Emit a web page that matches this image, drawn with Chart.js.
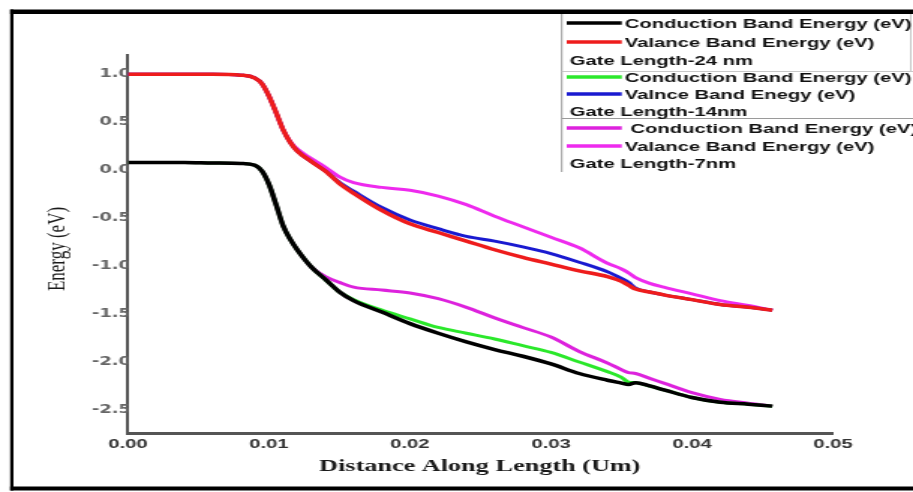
<!DOCTYPE html>
<html>
<head>
<meta charset="utf-8">
<script src="https://cdn.jsdelivr.net/npm/chart.js@4.4.1/dist/chart.umd.min.js"></script>
<style>
  html, body { margin: 0; padding: 0; background: #fff; }
</style>
</head>
<body>
<!-- the original figure is a horizontally stretched image, so the canvas is drawn narrow and stretched by CSS -->
<canvas id="bandChart" width="609" height="492" style="width:913px;height:492px;display:block"></canvas>
<script>
// distance along the channel (um)
const distance = [0, 0.002, 0.004, 0.006, 0.008, 0.009, 0.0095, 0.010, 0.0105, 0.011, 0.0115, 0.012,
  0.013, 0.014, 0.015, 0.016, 0.018, 0.020, 0.022, 0.024, 0.026, 0.028, 0.030, 0.032, 0.034,
  0.035, 0.0355, 0.036, 0.037, 0.038, 0.040, 0.042, 0.044, 0.0457];

// gate length 24 nm
const cb24 = [0.08, 0.08, 0.08, 0.075, 0.07, 0.05, -0.01, -0.15, -0.36, -0.58, -0.72, -0.83,
  -1.01, -1.14, -1.27, -1.36, -1.48, -1.60, -1.70, -1.79, -1.87, -1.94, -2.02, -2.12, -2.19,
  -2.22, -2.235, -2.215, -2.25, -2.29, -2.37, -2.42, -2.44, -2.46];
const vb24 = [1.0, 1.0, 1.0, 1.0, 0.99, 0.96, 0.90, 0.77, 0.60, 0.42, 0.29, 0.20,
  0.09, -0.01, -0.14, -0.24, -0.42, -0.56, -0.65, -0.74, -0.83, -0.91, -0.98, -1.05, -1.11,
  -1.16, -1.20, -1.24, -1.27, -1.30, -1.35, -1.40, -1.43, -1.46];

// gate length 14 nm
const cb14 = [0.08, 0.08, 0.08, 0.075, 0.07, 0.05, -0.01, -0.15, -0.36, -0.58, -0.72, -0.83,
  -1.01, -1.14, -1.27, -1.35, -1.46, -1.55, -1.64, -1.70, -1.76, -1.83, -1.90, -2.00, -2.10,
  -2.16, -2.21, -2.215, -2.25, -2.29, -2.37, -2.42, -2.44, -2.46];
const vb14 = [1.0, 1.0, 1.0, 1.0, 0.99, 0.96, 0.90, 0.77, 0.60, 0.42, 0.29, 0.20,
  0.09, -0.01, -0.13, -0.22, -0.39, -0.52, -0.61, -0.69, -0.74, -0.80, -0.87, -0.96, -1.06,
  -1.13, -1.17, -1.23, -1.27, -1.30, -1.35, -1.40, -1.43, -1.46];

// gate length 7 nm
const cb7 = [0.08, 0.08, 0.08, 0.075, 0.07, 0.05, -0.01, -0.15, -0.36, -0.58, -0.72, -0.83,
  -1.01, -1.11, -1.17, -1.22, -1.25, -1.28, -1.34, -1.43, -1.54, -1.64, -1.74, -1.89, -2.01,
  -2.08, -2.11, -2.12, -2.17, -2.22, -2.32, -2.39, -2.43, -2.46];
const vb7 = [1.0, 1.0, 1.0, 1.0, 0.99, 0.96, 0.90, 0.77, 0.60, 0.42, 0.30, 0.22,
  0.12, 0.03, -0.07, -0.13, -0.18, -0.21, -0.27, -0.36, -0.48, -0.59, -0.70, -0.81, -0.97,
  -1.03, -1.07, -1.12, -1.18, -1.22, -1.29, -1.36, -1.41, -1.46];

const seriesLabels = [
  "Conduction Band Energy (eV)", "Valance Band Energy (eV)",
  "Conduction Band Energy (eV)", "Valnce Band Enegy (eV)",
  " Conduction Band Energy (eV)", "Valance Band Energy (eV)",
];
const gateLabels = ["Gate Length-24 nm", "Gate Length-14nm", "Gate Length-7nm"];
const xTicks = [0, 0.01, 0.02, 0.03, 0.04, 0.05];
const yTicks = [1.0, 0.5, 0, -0.5, -1.0, -1.5, -2.0, -2.5];

const series = [cb24, vb24, cb14, vb14, cb7, vb7];
const colors = ["#000000", "#ee1c1c", "#2be82b", "#1a1ad0", "#dd22dd", "#ee2aee"];
const widths = [3.5, 3.5, 3, 3, 3, 3];

const toPoints = (ys) => distance.map((x, i) => ({ x: x, y: ys[i] }));

// frame, stacked legend boxes and axis titles drawn over the chart
const figureDecor = {
  id: "figureDecor",
  beforeDraw(chart) {
    const c = chart.ctx;
    c.save();
    c.fillStyle = "#fff";
    c.fillRect(0, 0, chart.width, chart.height);
    c.restore();
  },
  afterDraw(chart) {
    const c = chart.ctx;
    c.save();

    // outer black frame
    c.fillStyle = "#000";
    c.fillRect(6.8, 9.5, 603, 4.5);
    c.fillRect(6.8, 486.5, 603, 4);
    c.fillRect(6.8, 9.5, 2.2, 481);

    // legend box outlines
    c.strokeStyle = "#9a9a9a";
    c.lineWidth = 1;
    c.beginPath();
    c.moveTo(374.7, 14);
    c.lineTo(374.7, 172);
    c.moveTo(374.7, 118.5);
    c.lineTo(609, 118.5);
    c.stroke();
    c.strokeStyle = "#c8c8c8";
    c.beginPath();
    c.moveTo(374.7, 71.5);
    c.lineTo(609, 71.5);
    c.moveTo(607.5, 14);
    c.lineTo(607.5, 71.5);
    c.stroke();

    // legend rows: two series then the gate length, three times
    const rowY = [23, 42, 60, 77, 94, 111, 128, 146, 163];
    c.font = 'bold 13.5px "Liberation Sans"';
    c.textBaseline = "middle";
    c.textAlign = "left";
    c.fillStyle = "#111";
    chart.data.datasets.forEach((ds, i) => {
      const y = rowY[Math.floor(i / 2) * 3 + (i % 2)];
      c.strokeStyle = ds.borderColor;
      c.lineWidth = 3.5;
      c.beginPath();
      c.moveTo(378, y);
      c.lineTo(414.7, y);
      c.stroke();
      c.fillText(ds.label, 416.7, y + 1);
    });
    gateLabels.forEach((g, i) => {
      c.fillText(g, 380, rowY[i * 3 + 2] + 1);
    });

    // axis titles
    c.fillStyle = "#1a1a1a";
    c.textAlign = "center";
    c.textBaseline = "alphabetic";
    c.font = 'bold 17.5px "Liberation Serif"';
    c.fillText("Distance Along Length (Um)", 320, 471);

    c.translate(42.7, 249);
    c.rotate(-Math.PI / 2);
    c.font = '17px "Liberation Serif"';
    c.fillText("Energy (eV)", 0, 0);
    c.restore();
  },
};

const ctx = document.getElementById("bandChart").getContext("2d");

new Chart(ctx, {
  type: "line",
  data: {
    datasets: series.map((ys, i) => ({
      label: seriesLabels[i],
      data: toPoints(ys),
      borderColor: colors[i],
      backgroundColor: colors[i],
      borderWidth: widths[i],
      pointRadius: 0,
      fill: false,
      cubicInterpolationMode: "monotone",
    })),
  },
  options: {
    responsive: false,
    devicePixelRatio: 1,
    animation: false,
    layout: { padding: { top: 55, right: 53.4, left: 0, bottom: 0 } },
    plugins: {
      legend: { display: false },
      tooltip: { enabled: false },
    },
    scales: {
      x: {
        type: "linear",
        min: 0,
        max: 0.05,
        afterBuildTicks: (s) => { s.ticks = xTicks.map((v) => ({ value: v })); },
        afterFit: (s) => { s.height = 59; },
        grid: { display: false, drawTicks: false },
        border: { display: true, color: "#555", width: 3 },
        ticks: {
          callback: (v) => v.toFixed(2),
          font: { family: "Liberation Sans", weight: "bold", size: 13.5 },
          color: "#333",
          padding: 3,
          maxRotation: 0,
          autoSkip: false,
        },
      },
      y: {
        type: "linear",
        min: -2.74,
        max: 1.2,
        afterBuildTicks: (s) => { s.ticks = yTicks.map((v) => ({ value: v })); },
        afterFit: (s) => { s.width = 85.4; },
        grid: { display: false, drawTicks: false },
        border: { display: true, color: "#555", width: 2 },
        ticks: {
          callback: (v) => v.toFixed(1),
          font: { family: "DejaVu Sans", weight: "bold", size: 12 },
          color: "#666",
          padding: -2,
        },
      },
    },
  },
  plugins: [figureDecor],
});
</script>
</body>
</html>
